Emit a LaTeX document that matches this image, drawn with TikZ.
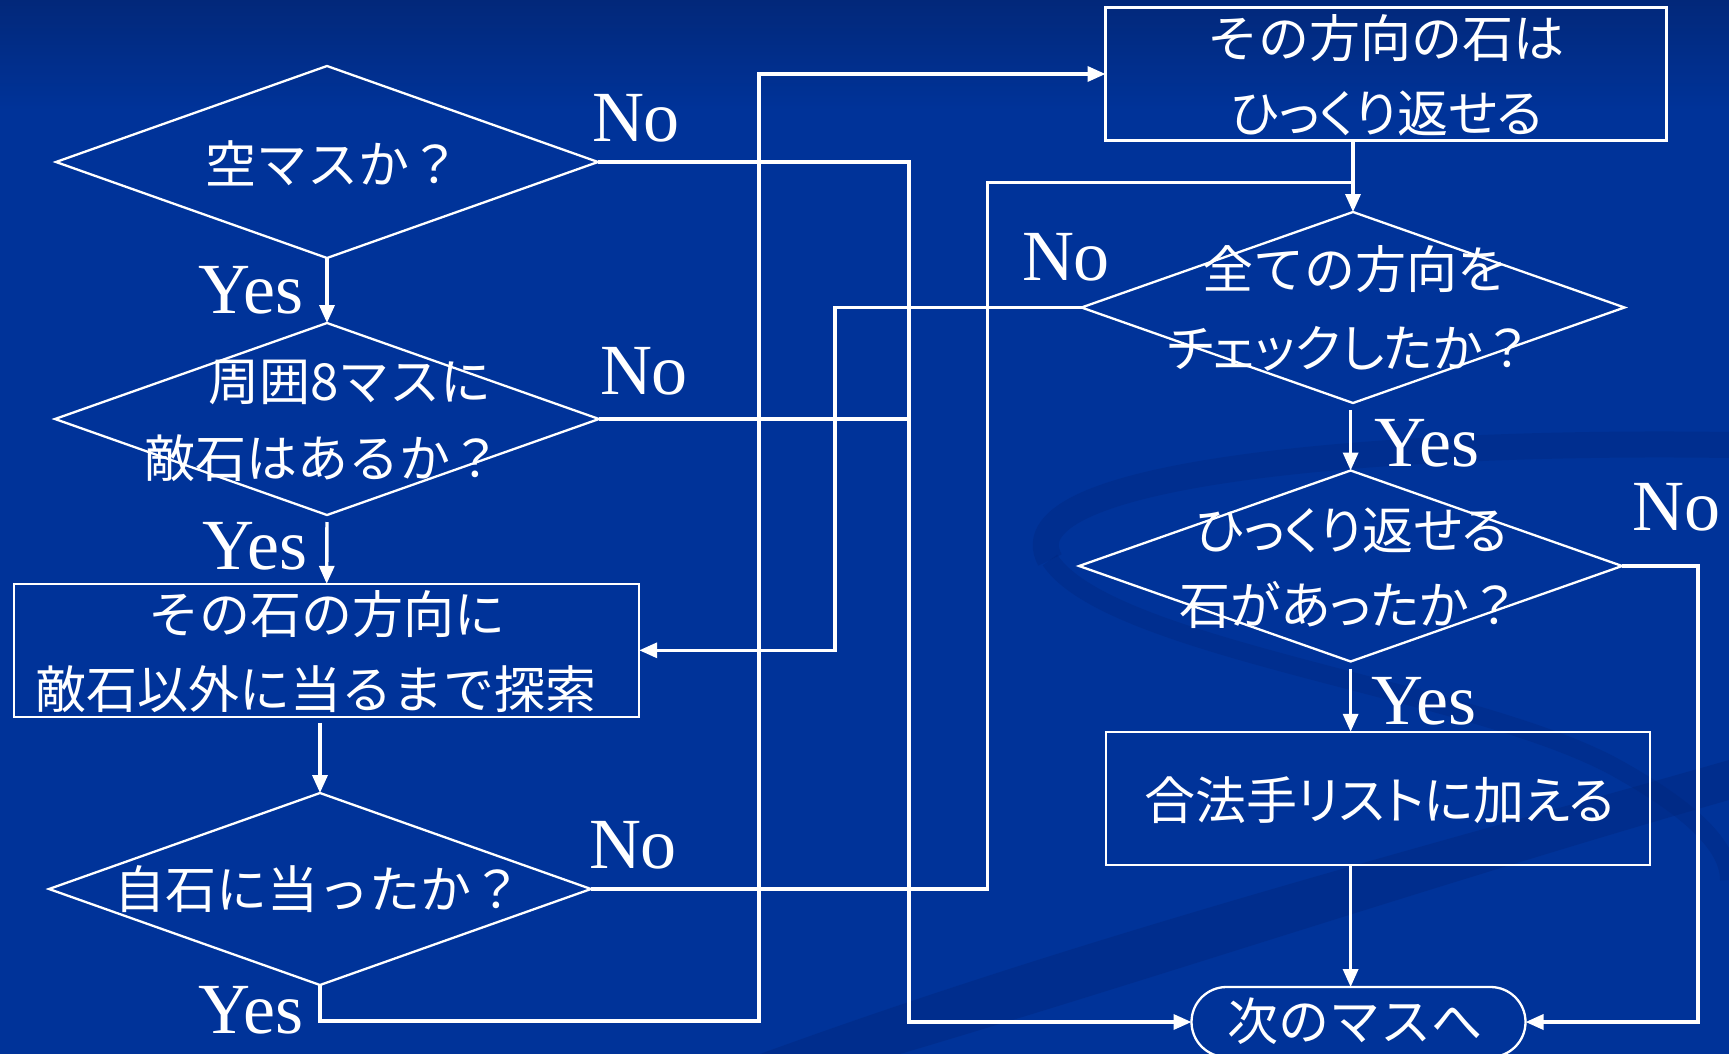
\documentclass[tikz,border=0pt]{standalone}
\usepackage{fontspec}
\setmainfont{Liberation Serif}
\newfontfamily\jpfont{Noto Sans CJK JP}
\newfontfamily\jpprop[RawFeature=+palt]{Noto Sans CJK JP}
\newcommand{\fq}{{\jpfont ？}}
\usetikzlibrary{shapes.geometric,arrows.meta}
\definecolor{bgtop}{RGB}{2,40,122}
\definecolor{bgmain}{RGB}{0,51,153}
\definecolor{swirlc}{RGB}{0,36,120}
\tikzset{
  dia/.style={diamond,draw=white,line width=2.3pt,inner sep=0pt,outer sep=0pt},
  box/.style={rectangle,draw=white,line width=2.3pt,inner sep=0pt,outer sep=0pt},
  term/.style={rectangle,rounded corners=35pt,draw=white,line width=2.3pt,inner sep=0pt,outer sep=0pt},
  jt/.style={text=white,inner sep=0pt,font=\jpfont\fontsize{51}{60}\selectfont},
  jtp/.style={text=white,inner sep=0pt,font=\jpprop\fontsize{51}{60}\selectfont},
  lab/.style={text=white,inner sep=0pt,font=\fontsize{72}{80}\selectfont},
  conn/.style={draw=white,line width=3.4pt},
  arr/.style={conn,-{Triangle[length=18pt,width=15pt]}}
}
\begin{document}
\begin{tikzpicture}[x=1pt,y=-1pt]
\useasboundingbox (0,0) rectangle (1729,1054);
% background
\shade[top color=bgtop,bottom color=bgmain] (0,0) rectangle (1729,110);
\fill[bgmain] (0,109) rectangle (1729,1054);
% faint swirl decoration
\fill[swirlc,opacity=0.35] (760,1054) .. controls (1100,930) and (1450,840) .. (1729,760) -- (1729,800) .. controls (1450,880) and (1150,980) .. (900,1054) -- cycle;
\draw[swirlc,opacity=0.3,line width=26pt] (1050,560) .. controls (1000,470) and (1400,440) .. (1729,445);
\draw[swirlc,opacity=0.3,line width=18pt] (1050,560) .. controls (1110,650) and (1480,690) .. (1620,770) .. controls (1700,815) and (1729,850) .. (1729,880);
% shapes
\node[dia,minimum width=542pt,minimum height=192pt] (d1) at (327,162) {};
\node[dia,minimum width=544pt,minimum height=192pt] (d2) at (327,419) {};
\node[box,minimum width=625pt,minimum height=133pt] (r1) at (326.7,650.3) {};
\node[dia,minimum width=542pt,minimum height=192pt] (d3) at (320,889) {};
\node[box,minimum width=561pt,minimum height=133pt] (r2) at (1386,74) {};
\node[dia,minimum width=543pt,minimum height=191pt] (d4) at (1353,307.5) {};
\node[dia,minimum width=543pt,minimum height=191pt] (d5) at (1350.6,566) {};
\node[box,minimum width=544pt,minimum height=133pt] (r3) at (1377.8,798.3) {};
\node[term,minimum width=334pt,minimum height=70pt] (t) at (1358.5,1022) {};
% texts
\node[jt] (t1) at (333,163) {空マスか？};
\node[jt] (t2a) at (350,382) {周囲8マスに};
\node[jt] (t2b) at (323,458) {敵石はあるか？};
\node[jt] (t3a) at (327,614) {その石の方向に};
\node[jt] (t3b) at (316,689) {敵石以外に当るまで探索};
\node[jt] (t4) at (318.5,889) {自石に当ったか？};
\node[jt] (t5a) at (1386,38.6) {その方向の石は};
\node[jtp] (t5b) at (1387,113.6) {ひっくり返せる};
\node[jt] (t6a) at (1355.5,269) {全ての方向を};
\node[jtp] (t6b) at (1350,348.6) {チェックしたか\fq};
\node[jtp] (t7a) at (1352,530.5) {ひっくり返せる};
\node[jtp] (t7b) at (1350,605) {石があったか\fq};
\node[jtp] (t8) at (1379.7,800) {合法手リストに加える};
\node[jt] (t9) at (1355,1021) {次のマスへ};
% labels
\node[lab] (l1) at (636,118) {No};
\node[lab] (l2) at (251,290) {Yes};
\node[lab] (l3) at (644,371) {No};
\node[lab] (l4) at (255,546) {Yes};
\node[lab] (l5) at (633,845) {No};
\node[lab] (l6) at (251,1010) {Yes};
\node[lab] (l7) at (1066,257) {No};
\node[lab] (l8) at (1427,443) {Yes};
\node[lab] (l9) at (1676,507) {No};
\node[lab] (l10) at (1424,701) {Yes};
% junction coordinates
\coordinate (cA) at (759,1021);
\coordinate (cB) at (987.5,182.5);
\coordinate (cC) at (835,650.3);
\coordinate (cD) at (909,1022);
\coordinate (cE) at (1698,1022);
% connectors
\draw[arr] (d1.south) -- (d2.north);
\draw[arr,shorten <=7pt] (d2.south) -- (r1.north);
\draw[arr,shorten <=6pt] (d3.north |- r1.south) -- (d3.north);
\draw[arr] (d3.south) |- (cA) |- (r2.west);
\draw[conn] (d3.east) -| (cB) -- (cB -| d4.north);
\draw[arr] (d4.north |- r2.south) -- (d4.north);
\draw[arr] (d4.west) -| (cC) -- (r1.east);
\draw[arr] (d1.east) -| (cD) -- (t.west);
\draw[conn] (d2.east) -- (d2.east -| cD);
\draw[arr,shorten <=7pt] (d5.north |- d4.south) -- (d5.north);
\draw[arr,shorten <=7pt] (d5.south) -- (d5.south |- r3.north);
\draw[arr] (d5.south |- r3.south) -- (d5.south |- t.north);
\draw[arr] (d5.east) -| (cE) -- (t.east);
\end{tikzpicture}
\end{document}
